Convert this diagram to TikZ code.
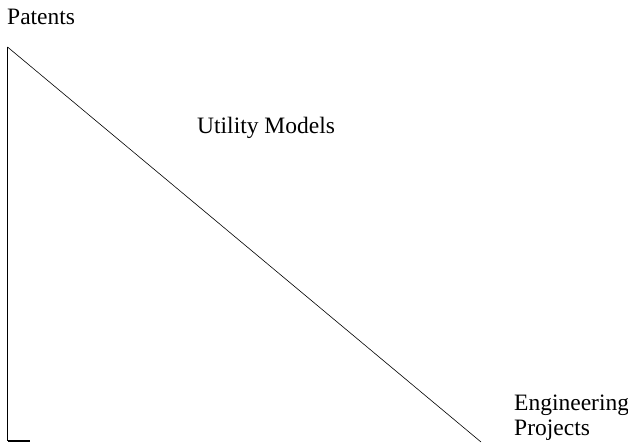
\documentclass[tikz,border=0pt]{standalone}
\usepackage{fontspec}
\setmainfont{Liberation Serif}
\usepackage{tikz}
\tikzset{label/.style={inner sep=0pt, font=\fontsize{23.5}{25}\selectfont, align=left}}

\begin{document}
\begin{tikzpicture}[x=1pt, y=-1pt]
			%%%%% START %%%%%
			\useasboundingbox (0, 0) rectangle (628, 443);
			
			\coordinate (apex) at (7.5, 47);
			\coordinate (corner) at (7.5, 441);
			\coordinate (tip) at (481, 442);
			\coordinate (foot) at (30, 441);
			
			\node[label, anchor=base west] (patents) at (7, 25) {Patents};
			\node[label, anchor=base west] (utility) at (197, 134) {Utility Models};
			\node[label, anchor=north west] (engineering) at (514, 395) {Engineering\\Projects};
			
			\draw[line width=1.3pt] (apex) -- (corner);
			\draw[line width=1.3pt] (corner) -- (foot);
			\draw[line width=0.6pt] (apex) -- (tip);
			
			%%%%% END %%%%%
		\end{tikzpicture}
\end{document}
